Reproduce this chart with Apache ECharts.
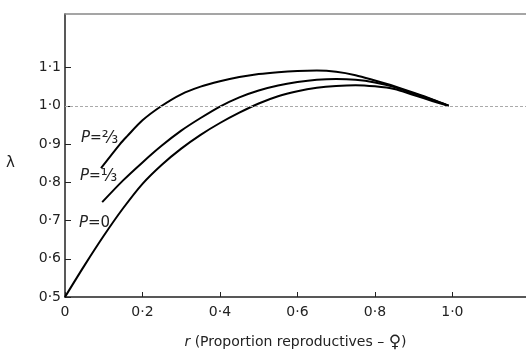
<!DOCTYPE html>
<html>
<head>
<meta charset="utf-8">
<script src="https://cdn.jsdelivr.net/npm/echarts@6/dist/echarts.min.js"></script>
<style>html,body{margin:0;padding:0;background:#fff}#c{width:526px;height:358px}</style>
</head>
<body>
<div id="c"></div>
<script>
// Data
const xTicks = [0, 0.2, 0.4, 0.6, 0.8, 1.0];
const yTicks = [0.5, 0.6, 0.7, 0.8, 0.9, 1.0, 1.1];
const rP23 = [0.093, 0.142, 0.16, 0.2, 0.25, 0.3, 0.35, 0.4, 0.45, 0.5, 0.55, 0.6, 0.65, 0.7, 0.75, 0.8, 0.85, 0.9, 0.95, 0.99];
const lamP23 = [0.837, 0.9, 0.92, 0.962, 1.0, 1.03, 1.05, 1.064, 1.075, 1.083, 1.088, 1.091, 1.092, 1.089, 1.08, 1.066, 1.051, 1.034, 1.016, 1.0];
const rP13 = [0.096, 0.15, 0.2, 0.25, 0.3, 0.35, 0.4, 0.45, 0.5, 0.55, 0.6, 0.65, 0.7, 0.75, 0.8, 0.85, 0.9, 0.95, 0.99];
const lamP13 = [0.748, 0.805, 0.852, 0.896, 0.935, 0.968, 0.998, 1.022, 1.04, 1.053, 1.062, 1.068, 1.07, 1.068, 1.061, 1.049, 1.032, 1.015, 1.0];
const rP0 = [0, 0.05, 0.1, 0.15, 0.2, 0.25, 0.3, 0.35, 0.4, 0.45, 0.5, 0.55, 0.6, 0.65, 0.7, 0.75, 0.8, 0.85, 0.9, 0.95, 0.99];
const lamP0 = [0.5, 0.582, 0.66, 0.732, 0.796, 0.846, 0.888, 0.924, 0.955, 0.982, 1.006, 1.025, 1.038, 1.047, 1.052, 1.054, 1.051, 1.044, 1.028, 1.012, 1.0];
const refLevel = 1.0;

const zip = (a, b) => a.map((v, i) => [v, b[i]]);
const fmt = v => (v === 0 ? '0' : v.toFixed(1).replace('.', '·'));
const FONT = 'DejaVu Sans';

const chart = echarts.init(document.getElementById('c'));
const lineSeries = (data) => ({
  type: 'line', data, smooth: 0.3, showSymbol: false, symbol: 'none',
  lineStyle: { color: '#000', width: 2 }, silent: true, z: 3
});
const pRich = {
  i: { fontStyle: 'italic', fontSize: 15, fontFamily: FONT, fill: '#222' },
  f: { fontSize: 17, fontFamily: FONT, fill: '#222' }
};

chart.setOption({
  animation: false,
  backgroundColor: '#fff',
  textStyle: { fontFamily: FONT },
  grid: { left: 65, right: 0, top: 14, bottom: 61 },
  xAxis: [{
    type: 'value', min: 0, max: 1.19, interval: 0.2,
    axisLine: { show: true, lineStyle: { color: '#222', width: 1.5 } },
    axisTick: { show: true, inside: true, length: 5, customValues: xTicks, lineStyle: { color: '#222' } },
    axisLabel: {
      color: '#222', fontSize: 14, margin: 8, fontFamily: FONT, customValues: xTicks,
      formatter: v => fmt(v)
    },
    splitLine: { show: false },
    name: '{i|r} (Proportion reproductives – {s|♀})',
    nameLocation: 'middle', nameGap: 37,
    nameTextStyle: {
      color: '#222', fontSize: 14, fontFamily: FONT,
      rich: { i: { fontStyle: 'italic', fontSize: 14, fontFamily: FONT, color: '#222' },
              s: { fontSize: 17, fontFamily: FONT, color: '#222' } }
    }
  }, {
    type: 'value', position: 'top', min: 0, max: 1.19,
    axisLine: { show: true, onZero: false, lineStyle: { color: '#888', width: 1.5 } },
    axisTick: { show: false }, axisLabel: { show: false }, splitLine: { show: false }
  }],
  yAxis: {
    type: 'value', min: 0.5, max: 1.24, interval: 0.1,
    axisLine: { show: true, lineStyle: { color: '#222', width: 1.5 } },
    axisTick: { show: true, inside: true, length: 6, customValues: yTicks, lineStyle: { color: '#222' } },
    axisLabel: {
      color: '#222', fontSize: 14, margin: 4, fontFamily: FONT, customValues: yTicks,
      formatter: v => fmt(v)
    },
    splitLine: { show: false }
  },
  graphic: [
    { type: 'text', left: 6, top: 156, style: { text: 'λ', font: '15px "DejaVu Sans"', fill: '#222' } },
    { type: 'text', left: 81, top: 130, style: { text: '{i|P}={f|⅔}', fill: '#222', font: '14px "DejaVu Sans"', rich: pRich } },
    { type: 'text', left: 80, top: 168, style: { text: '{i|P}={f|⅓}', fill: '#222', font: '14px "DejaVu Sans"', rich: pRich } },
    { type: 'text', left: 79, top: 216, style: { text: '{i|P}=0', fill: '#222', font: '15px "DejaVu Sans"', rich: pRich } }
  ],
  series: [
    Object.assign(lineSeries(zip(rP23, lamP23)), {
      markLine: {
        silent: true, symbol: ['none', 'none'], label: { show: false },
        lineStyle: { color: '#aaa', type: [3, 2], width: 1 },
        data: [{ yAxis: refLevel }]
      }
    }),
    lineSeries(zip(rP13, lamP13)),
    lineSeries(zip(rP0, lamP0))
  ]
});
</script>
</body>
</html>
